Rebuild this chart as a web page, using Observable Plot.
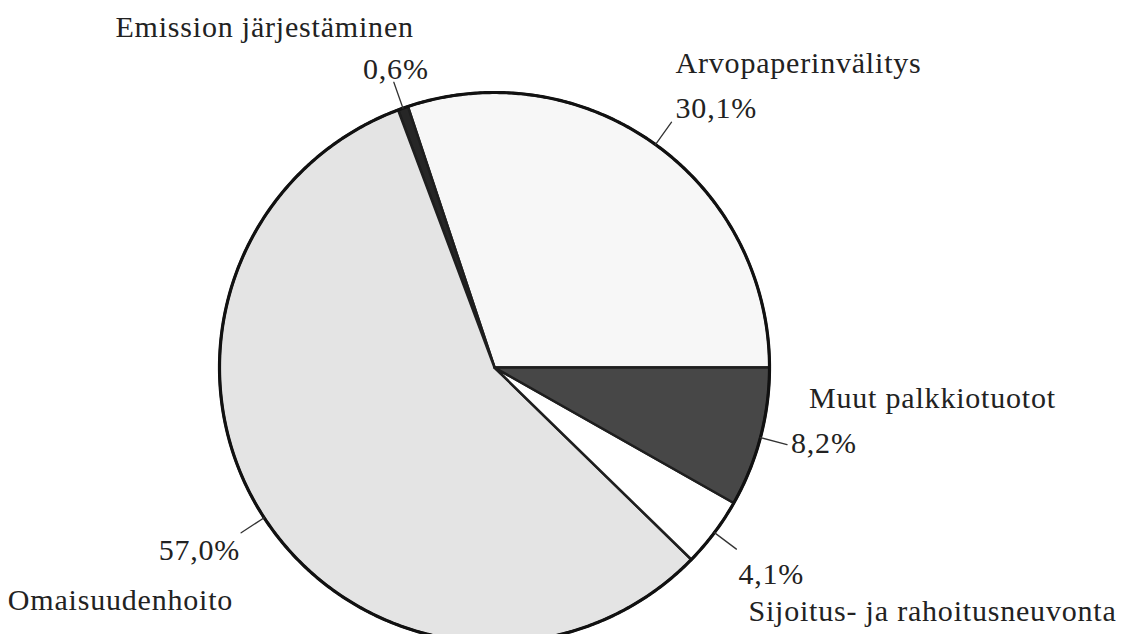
<!DOCTYPE html>
<html>
<head>
<meta charset="utf-8">
<script src="https://cdn.jsdelivr.net/npm/d3@7"></script>
<script src="https://cdn.jsdelivr.net/npm/@observablehq/plot@0.6"></script>
<style>
  html, body { margin: 0; padding: 0; background: #fff; }
  #chart svg text { font-family: "Liberation Serif", "Times New Roman", serif !important; }
</style>
</head>
<body>
<div id="chart"></div>
<script>
// ---- data ----
const categories = ["Arvopaperinvälitys", "Emission järjestäminen", "Omaisuudenhoito", "Sijoitus- ja rahoitusneuvonta", "Muut palkkiotuotot"];
const values = [30.1, 0.6, 57.0, 4.1, 8.2];
const valueLabels = ["30,1%", "0,6%", "57,0%", "4,1%", "8,2%"];

// ---- styling / layout (not data) ----
const fills = ["#f7f7f7", "#262626", "#e4e4e4", "#ffffff", "#474747"];
const labelLayout = [
  {pA: "start",  pDx: 4,   pDy: -4, nA: "start", nDx: 4,   nDy: -49},
  {pA: "middle", pDx: 2,   pDy: -3, nA: "end",   nDx: 20,  nDy: -45},
  {pA: "end",    pDx: -1,  pDy: 27, nA: "end",   nDx: -8,  nDy: 77},
  {pA: "start",  pDx: 2,   pDy: 35, nA: "start", nDx: 12,  nDy: 72},
  {pA: "start",  pDx: 4,   pDy: 8,  nA: "start", nDx: 22,  nDy: -37}
];

const W = 1126, H = 634;
const cx = 494, cy = 367, R = 275;
const leaderOut = 1.1;

// angles: start at 3 o'clock, counter-clockwise
const total = d3.sum(values);
let acc = 0;
const slices = values.map((v, i) => {
  const a0 = acc / total * 2 * Math.PI;
  acc += v;
  const a1 = acc / total * 2 * Math.PI;
  return {i, category: categories[i], value: v, label: valueLabels[i], a0, a1, mid: (a0 + a1) / 2};
});

function slicePoints(s) {
  const pts = [{x: 0, y: 0}];
  const n = Math.max(2, Math.ceil((s.a1 - s.a0) / (Math.PI / 360)));
  for (let k = 0; k <= n; k++) {
    const a = s.a0 + (s.a1 - s.a0) * k / n;
    pts.push({x: Math.cos(a), y: Math.sin(a)});
  }
  pts.push({x: 0, y: 0});
  return pts;
}

const circle = d3.range(0, 721).map(k => {
  const a = k / 720 * 2 * Math.PI;
  return {x: Math.cos(a), y: Math.sin(a)};
});

const leaders = slices.flatMap(s => [
  {i: s.i, x: Math.cos(s.mid), y: Math.sin(s.mid)},
  {i: s.i, x: leaderOut * Math.cos(s.mid), y: leaderOut * Math.sin(s.mid)}
]);

const ends = slices.map(s => ({...s, x: leaderOut * Math.cos(s.mid), y: leaderOut * Math.sin(s.mid), lay: labelLayout[s.i]}));

const marginTop = cy - R;
const yMin = 1 - (H - marginTop) / R;

const font = {fontFamily: "Liberation Serif", fontSize: 30, fill: "#222", lineAnchor: "bottom"};

const marks = [];
slices.forEach(s => {
  marks.push(Plot.line(slicePoints(s), {x: "x", y: "y", fill: fills[s.i], stroke: "#1e1e1e", strokeWidth: 2.5, strokeLinejoin: "round"}));
});
marks.push(Plot.line(circle, {x: "x", y: "y", stroke: "#111", strokeWidth: 3.2}));
marks.push(Plot.line(leaders, {x: "x", y: "y", z: "i", stroke: "#333", strokeWidth: 1.3}));
ends.forEach(e => {
  marks.push(Plot.text([e], {x: "x", y: "y", text: "label", textAnchor: e.lay.pA, dx: e.lay.pDx, dy: e.lay.pDy, ...font}));
  marks.push(Plot.text([e], {x: "x", y: "y", text: "category", textAnchor: e.lay.nA, dx: e.lay.nDx, dy: e.lay.nDy, ...font}));
});

const chart = Plot.plot({
  width: W,
  height: H,
  marginLeft: cx - R,
  marginRight: W - (cx + R),
  marginTop: marginTop,
  marginBottom: 0,
  x: {domain: [-1, 1], axis: null},
  y: {domain: [yMin, 1], axis: null},
  style: {background: "#fff", letterSpacing: "0.8px", overflow: "visible"},
  marks
});
document.getElementById("chart").appendChild(chart);
</script>
</body>
</html>
